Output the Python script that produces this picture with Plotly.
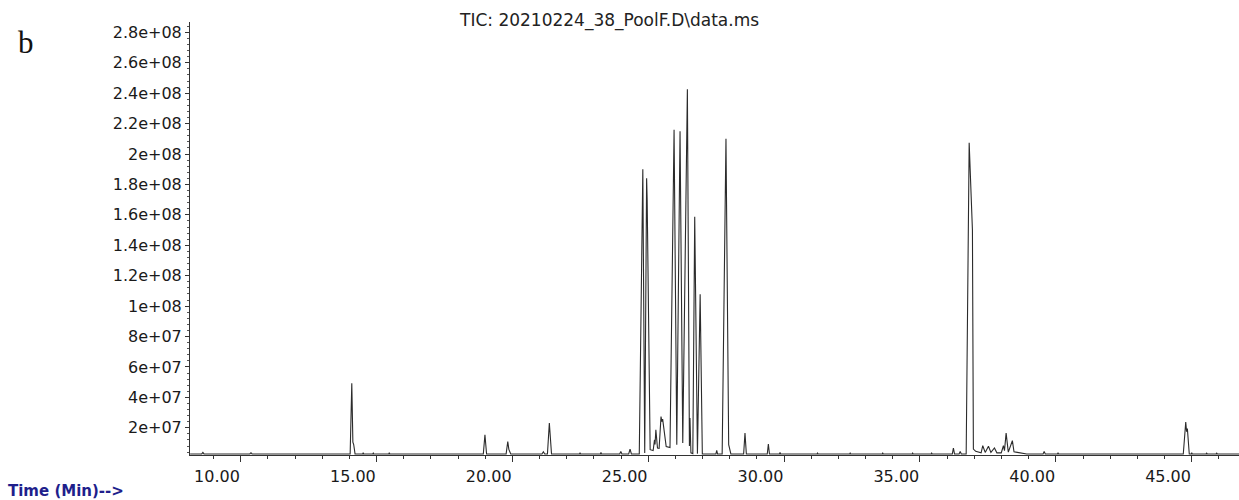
import plotly.graph_objects as go

# Total ion chromatogram, stored as trace vertices: retention time (min) and abundance
rt_min = [
    9.01, 9.44, 9.48, 9.52, 11.21, 11.25, 11.29,
    14.90, 14.96, 15.00, 15.03, 15.08, 15.36, 15.38, 15.40, 15.73, 15.75, 15.77,
    16.32, 16.34, 16.36,
    19.80, 19.86, 19.92, 20.64, 20.70, 20.74, 20.81,
    21.96, 22.01, 22.06, 22.16, 22.23, 22.31, 23.34, 23.36, 23.38,
    24.11, 24.13, 24.15, 24.82, 24.86, 24.90, 25.15, 25.20, 25.25,
    25.54, 25.67, 25.74, 25.81, 25.83, 25.845, 25.94,
    26.05, 26.10, 26.12, 26.15, 26.21, 26.27, 26.34, 26.37, 26.40, 26.53, 26.67,
    26.82, 26.92, 27.04, 27.14, 27.31, 27.385, 27.405, 27.44,
    27.51, 27.58, 27.68, 27.78, 27.86,
    28.36, 28.39, 28.42, 28.59, 28.73, 28.83, 28.91,
    29.38, 29.43, 29.48, 30.25, 30.29, 30.33, 30.70, 30.72, 30.74,
    32.08, 32.10, 32.12, 33.28, 33.30, 33.32, 34.48, 34.50, 34.52,
    35.58, 35.60, 35.62, 36.28, 36.30, 36.32,
    37.06, 37.10, 37.14, 37.31, 37.35, 37.39,
    37.57, 37.68, 37.80, 37.835, 37.92,
    38.12, 38.18, 38.27, 38.39, 38.48, 38.61, 38.70, 38.86, 38.94, 38.98,
    39.04, 39.12, 39.27, 39.33, 39.45, 39.60, 39.80,
    40.40, 40.44, 40.48, 40.93, 40.95, 40.97,
    45.56, 45.65, 45.68, 45.71, 45.78, 45.85, 45.87, 45.89,
    46.40, 46.42, 46.44, 46.77, 46.79, 46.81, 47.61,
]
abundance = [
    2.8e6, 2.8e6, 3.8e6, 2.8e6, 2.8e6, 3.6e6, 2.8e6,
    2.8e6, 4.93e7, 1.05e7, 9.0e6, 2.8e6, 2.8e6, 3.6e6, 2.8e6, 2.8e6, 3.4e6, 2.8e6,
    2.8e6, 3.6e6, 2.8e6,
    2.8e6, 1.54e7, 2.8e6, 2.8e6, 1.10e7, 5.8e6, 2.8e6,
    2.8e6, 4.2e6, 2.8e6, 2.8e6, 2.31e7, 2.8e6, 2.8e6, 3.5e6, 2.8e6,
    2.8e6, 3.8e6, 2.8e6, 2.8e6, 4.5e6, 2.8e6, 2.8e6, 6.0e6, 2.8e6,
    2.8e6, 1.90e8, 3.4e6, 1.84e8, 1.70e8, 1.48e8, 5.6e6,
    5.0e6, 1.21e7, 9.0e6, 1.87e7, 6.7e6, 6.5e6, 2.74e7, 2.40e7, 2.57e7, 7.7e6, 7.0e6,
    2.16e8, 8.9e6, 2.15e8, 1.0e7, 2.426e8, 8.0e6, 2.64e7, 3.5e6,
    3.0e6, 1.588e8, 3.0e6, 1.078e8, 2.8e6,
    2.8e6, 5.1e6, 2.8e6, 2.8e6, 2.10e8, 8.9e6, 2.8e6,
    2.8e6, 1.65e7, 2.8e6, 2.8e6, 9.3e6, 2.8e6, 2.8e6, 3.8e6, 2.8e6,
    2.8e6, 3.4e6, 2.8e6, 2.8e6, 3.4e6, 2.8e6, 2.8e6, 3.4e6, 2.8e6,
    2.8e6, 3.4e6, 2.8e6, 2.8e6, 3.4e6, 2.8e6,
    2.8e6, 6.7e6, 2.8e6, 2.8e6, 4.5e6, 2.8e6,
    2.8e6, 2.074e8, 1.50e8, 6.0e6, 4.5e6,
    3.5e6, 8.2e6, 3.8e6, 7.9e6, 3.8e6, 6.7e6, 3.5e6, 3.5e6, 8.2e6, 5.0e6,
    1.65e7, 4.0e6, 1.15e7, 4.2e6, 3.8e6, 3.2e6, 2.8e6,
    2.8e6, 4.5e6, 2.8e6, 2.8e6, 3.5e6, 2.8e6,
    2.8e6, 2.38e7, 1.75e7, 1.95e7, 2.8e6, 2.8e6, 3.6e6, 2.8e6,
    2.8e6, 3.3e6, 2.8e6, 2.8e6, 3.3e6, 2.8e6, 2.8e6,
]

x_tick_vals = [10, 15, 20, 25, 30, 35, 40, 45]
x_tick_text = ["10.00", "15.00", "20.00", "25.00", "30.00", "35.00", "40.00", "45.00"]
y_tick_vals = [2e7, 4e7, 6e7, 8e7, 1e8, 1.2e8, 1.4e8, 1.6e8, 1.8e8, 2e8,
               2.2e8, 2.4e8, 2.6e8, 2.8e8]
y_tick_text = ["2e+07", "4e+07", "6e+07", "8e+07", "1e+08", "1.2e+08", "1.4e+08",
               "1.6e+08", "1.8e+08", "2e+08", "2.2e+08", "2.4e+08", "2.6e+08", "2.8e+08"]

title_text = "TIC: 20210224_38_PoolF.D\\data.ms"
panel_label = "b"
time_label = "Time (Min)-->"

X_RANGE = [9.006, 47.61]
Y_RANGE = [2.1e6, 2.868e8]
TICK_OFFSET = 0.87  # instrument export draws its tick marks shifted from the labels

W, H = 1239, 500
ML, MR, MT, MB = 190, 0, 22, 45
SANS = "DejaVu Sans"


def px_to_paper_x(px):
    return (px - ML) / (W - ML - MR)


def px_to_paper_y(py):
    return (H - MB - py) / (H - MT - MB)


fig = go.Figure()
fig.add_trace(go.Scatter(
    x=rt_min, y=abundance, mode="lines",
    line=dict(color="#2b2b2b", width=1.1),
    showlegend=False, hoverinfo="x+y",
))
# empty trace that carries the tick-mark axis
fig.add_trace(go.Scatter(x=[], y=[], xaxis="x2", showlegend=False, hoverinfo="skip"))

fig.update_layout(
    width=W, height=H,
    margin=dict(l=ML, r=MR, t=MT, b=MB, pad=0),
    paper_bgcolor="white", plot_bgcolor="white",
    xaxis=dict(
        range=X_RANGE, showline=True, linecolor="#333333", linewidth=1,
        tickmode="array", tickvals=x_tick_vals, ticktext=x_tick_text,
        ticks="outside", ticklen=7, tickcolor="rgba(0,0,0,0)",
        tickfont=dict(family=SANS, size=16, color="#1a1a1a"),
        showgrid=False, zeroline=False,
    ),
    xaxis2=dict(
        range=X_RANGE, overlaying="x", anchor="y", side="bottom",
        showline=False, showticklabels=False, showgrid=False, zeroline=False,
        tickmode="linear", tick0=10 + TICK_OFFSET, dtick=5,
        ticks="outside", ticklen=6, tickcolor="#333333", tickwidth=1,
        minor=dict(ticks="outside", ticklen=3, tickcolor="#333333",
                   tick0=10 + TICK_OFFSET, dtick=1),
    ),
    yaxis=dict(
        range=Y_RANGE, showline=True, linecolor="#333333", linewidth=1,
        tickmode="array", tickvals=y_tick_vals, ticktext=y_tick_text,
        ticks="outside", ticklen=4, tickcolor="#333333",
        minor=dict(ticks="outside", ticklen=2, tickcolor="#555555",
                   tick0=0, dtick=4e6),
        tickfont=dict(family=SANS, size=16, color="#1a1a1a"),
        showgrid=False, zeroline=False,
    ),
    annotations=[
        dict(text=title_text, xref="paper", yref="paper",
             x=px_to_paper_x(609), y=px_to_paper_y(20),
             xanchor="center", yanchor="middle", showarrow=False,
             font=dict(family=SANS, size=17, color="#222222")),
        dict(text=panel_label, xref="paper", yref="paper",
             x=px_to_paper_x(26), y=px_to_paper_y(42),
             xanchor="center", yanchor="middle", showarrow=False,
             font=dict(family="Liberation Serif", size=31, color="#111111")),
        dict(text="<b>" + time_label + "</b>", xref="paper", yref="paper",
             x=px_to_paper_x(6), y=px_to_paper_y(491),
             xanchor="left", yanchor="middle", showarrow=False,
             font=dict(family=SANS, size=15, color="#1f1f8c")),
    ],
)

fig.write_html("out.html")
